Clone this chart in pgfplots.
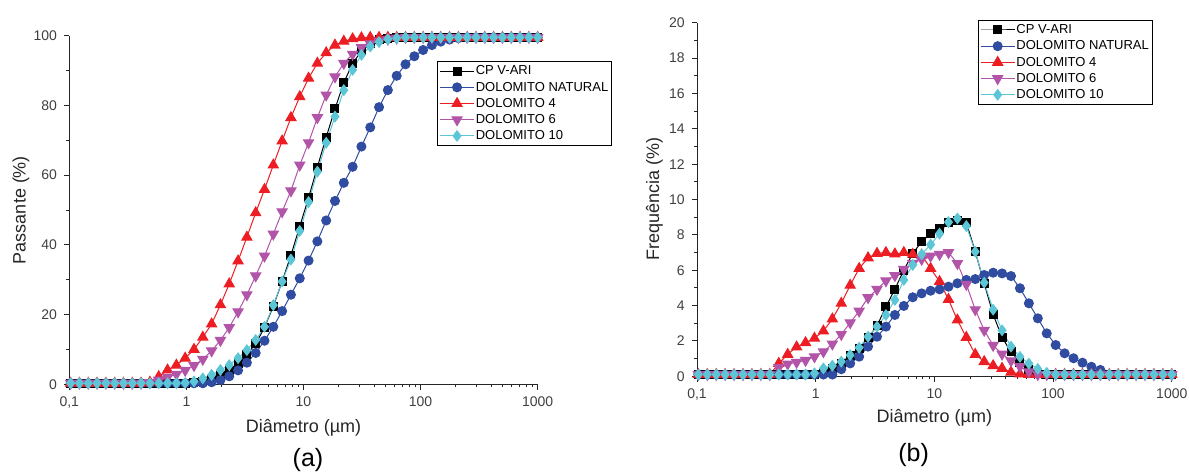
\documentclass[border=0pt]{standalone}
\usepackage{pgfplots}
\pgfplotsset{compat=1.18}
\usepackage{pgfplotstable}
\usepackage{fontspec}
\setmainfont{Liberation Sans}

\definecolor{cpk}{RGB}{0,0,0}
\definecolor{nat}{RGB}{48,76,160}
\definecolor{dfour}{RGB}{236,30,36}
\definecolor{dsix}{RGB}{178,84,168}
\definecolor{dten}{RGB}{92,198,214}

% Cumulative passing (%)
\pgfplotstableread{
x cp nat d4 d6 d10
0.10265 0.3 0.3 0.3 0.3 0.3
0.12207 0.3 0.3 0.3 0.3 0.3
0.14517 0.3 0.3 0.3 0.3 0.3
0.17263 0.3 0.3 0.3 0.3 0.3
0.20530 0.3 0.3 0.3 0.3 0.3
0.24414 0.3 0.3 0.3 0.3 0.3
0.29033 0.3 0.3 0.3 0.3 0.3
0.34527 0.3 0.3 0.3 0.3 0.3
0.41059 0.3 0.3 0.3 0.3 0.3
0.48828 0.3 0.3 0.6 0.5 0.3
0.58067 0.3 0.3 2.2 1.2 0.3
0.69053 0.3 0.3 4.1 2.0 0.3
0.82119 0.3 0.3 5.5 2.9 0.3
0.97656 0.3 0.3 7.5 4.0 0.4
1.1613 0.4 0.3 10.0 5.4 0.8
1.3811 0.7 0.3 13.5 7.2 1.7
1.6424 1.3 0.6 17.3 9.6 2.7
1.9531 2.4 1.2 22.8 12.6 4.1
2.3227 3.9 2.3 28.8 16.3 5.5
2.7621 6.0 4.0 35.4 20.8 7.5
3.2847 8.6 6.2 42.2 25.7 9.8
3.9063 11.6 9.0 49.2 31.1 12.7
4.6453 16.3 12.5 55.9 36.8 16.5
5.5243 22.4 16.5 62.9 43.1 22.7
6.5695 29.5 21.0 69.8 49.5 29.5
7.8125 37.0 25.7 76.5 55.5 35.8
9.2910 45.3 30.4 82.5 62.9 44.0
11.049 53.5 35.5 87.8 69.3 52.3
13.139 62.3 41.0 92.1 76.5 61.0
15.625 70.9 47.0 95.1 83.0 69.3
18.581 79.0 52.6 97.3 88.2 76.8
22.097 86.6 57.8 98.4 92.1 84.4
26.278 92.0 62.4 99.1 94.7 90.2
31.25 95.7 68.2 99.4 96.6 94.5
37.163 97.8 73.7 99.5 97.7 96.9
44.194 98.9 79.5 99.5 98.5 98.2
52.556 99.3 84.4 99.5 99.0 99.0
62.5 99.5 88.5 99.5 99.3 99.3
74.325 99.5 91.8 99.5 99.5 99.5
88.388 99.5 94.1 99.5 99.5 99.5
105.112 99.5 95.9 99.5 99.5 99.5
125 99.5 97.3 99.5 99.5 99.5
148.651 99.5 98.3 99.5 99.5 99.5
176.777 99.5 98.9 99.5 99.5 99.5
210.224 99.5 99.3 99.5 99.5 99.5
250 99.5 99.5 99.5 99.5 99.5
297.302 99.5 99.5 99.5 99.5 99.5
353.553 99.5 99.5 99.5 99.5 99.5
420.448 99.5 99.5 99.5 99.5 99.5
500 99.5 99.5 99.5 99.5 99.5
594.604 99.5 99.5 99.5 99.5 99.5
707.107 99.5 99.5 99.5 99.5 99.5
840.896 99.5 99.5 99.5 99.5 99.5
1000 99.5 99.5 99.5 99.5 99.5
}\cum

% Frequency (%)
\pgfplotstableread{
x cp nat d4 d6 d10
0.10265 0.1 0.1 0.1 0.1 0.1
0.12207 0.1 0.1 0.1 0.1 0.1
0.14517 0.1 0.1 0.1 0.1 0.1
0.17263 0.1 0.1 0.1 0.1 0.1
0.20530 0.1 0.1 0.1 0.1 0.1
0.24414 0.1 0.1 0.1 0.1 0.1
0.29033 0.1 0.1 0.1 0.1 0.1
0.34527 0.1 0.1 0.1 0.1 0.1
0.41059 0.1 0.1 0.1 0.1 0.1
0.48828 0.1 0.1 0.73 0.5 0.1
0.58067 0.1 0.1 1.24 0.7 0.1
0.69053 0.1 0.1 1.66 0.79 0.1
0.82119 0.1 0.1 1.9 0.9 0.1
0.97656 0.1 0.1 2.15 1.11 0.17
1.1613 0.2 0.1 2.56 1.39 0.45
1.3811 0.45 0.1 3.24 1.83 0.6
1.6424 0.75 0.4 4.13 2.37 0.83
1.9531 1.15 0.73 5.15 3.03 1.2
2.3227 1.6 1.11 6.1 3.69 1.62
2.7621 2.2 1.68 6.7 4.45 2.24
3.2847 2.85 2.24 6.95 4.92 2.81
3.9063 3.94 2.81 7.0 5.4 3.47
4.6453 4.93 3.47 6.92 5.7 4.32
5.5243 6.0 3.98 7.0 6.05 5.45
6.5695 6.95 4.47 6.9 6.39 6.3
7.8125 7.61 4.69 6.85 6.62 6.9
9.2910 8.09 4.84 6.1 6.8 7.45
11.049 8.37 4.92 5.36 6.9 8.07
13.139 8.7 5.07 4.35 7.0 8.72
15.625 8.8 5.26 3.18 6.38 8.93
18.581 8.7 5.45 2.2 5.2 8.5
22.097 7.05 5.5 1.24 3.77 7.05
26.278 5.25 5.73 0.83 2.6 5.3
31.25 3.5 5.86 0.6 1.75 3.77
37.163 2.2 5.82 0.45 1.26 2.6
44.194 1.38 5.67 0.23 0.88 1.68
52.556 0.8 4.98 0.13 0.55 1.1
62.5 0.4 4.13 0.1 0.26 0.72
74.325 0.15 3.28 0.1 0.1 0.42
88.388 0.1 2.43 0.1 0.1 0.2
105.112 0.1 1.77 0.1 0.1 0.1
125 0.1 1.3 0.1 0.1 0.1
148.651 0.1 1.02 0.1 0.1 0.1
176.777 0.1 0.77 0.1 0.1 0.1
210.224 0.1 0.54 0.1 0.1 0.1
250 0.1 0.36 0.1 0.1 0.1
297.302 0.1 0.1 0.1 0.1 0.1
353.553 0.1 0.1 0.1 0.1 0.1
420.448 0.1 0.1 0.1 0.1 0.1
500 0.1 0.1 0.1 0.1 0.1
594.604 0.1 0.1 0.1 0.1 0.1
707.107 0.1 0.1 0.1 0.1 0.1
840.896 0.1 0.1 0.1 0.1 0.1
1000 0.1 0.1 0.1 0.1 0.1
}\freq

\begin{document}
\begin{tikzpicture}
\useasboundingbox (0,0) rectangle (594.5pt,236.5pt);

\begin{axis}[
  scale only axis,
  at={(34.65pt,44.35pt)}, anchor=south west,
  width=234.2pt, height=174.3pt,
  xmode=log, xmin=0.1, xmax=1000,
  ymin=0, ymax=100, ytick={0,20,40,60,80,100},
  axis x line*=bottom, axis y line*=left,
  axis line style={line width=0.5pt, black!85},
  tick align=outside,
  major tick length=2.6pt, minor tick length=1.5pt,
  tick style={black!85, line width=0.45pt},
  xtick={0.1,1,10,100,1000},
  xticklabels={{0,1},1,10,100,1000},
  minor xtick={0.2,0.3,0.4,0.5,0.6,0.7,0.8,0.9,2,3,4,5,6,7,8,9,20,30,40,50,60,70,80,90,200,300,400,500,600,700,800,900},
  minor y tick num=1,
  /pgf/number format/assume math mode=true,
  tick label style={font=\fontsize{7}{8}\selectfont, text=black!75},
  label style={font=\fontsize{9}{10}\selectfont, text=black!85},
  xlabel={Diâmetro (µm)},
  ylabel={Passante (\%)},
  ylabel style={at={(axis description cs:-0.103,0.5)}, anchor=center},
  xlabel style={at={(axis description cs:0.5,-0.125)}, anchor=center},
  clip=false,
  legend cell align=left,
  legend style={at={(rel axis cs:0.785,0.927)}, anchor=north west,
    font=\fontsize{6.5}{7.5}\selectfont, draw=black, line width=0.5pt,
    inner sep=1pt, row sep=0.6pt,
    nodes={inner sep=0.6pt, text height=5pt, text depth=1.3pt}},
]
\addplot[cpk, line width=0.5pt, mark=square*, mark size=2pt, mark options={solid}] table[x=x, y=cp]{\cum};
\addlegendentry{CP V-ARI}
\addplot[nat, line width=0.5pt, mark=*, mark size=2.25pt, mark options={solid}] table[x=x, y=nat]{\cum};
\addlegendentry{DOLOMITO NATURAL}
\addplot[dfour, line width=0.5pt, mark=triangle*, mark size=2.9pt, mark options={solid}] table[x=x, y=d4]{\cum};
\addlegendentry{DOLOMITO 4}
\addplot[dsix, line width=0.5pt, mark=triangle*, mark size=2.9pt, mark options={solid, rotate=180}] table[x=x, y=d6]{\cum};
\addlegendentry{DOLOMITO 6}
\addplot[dten, line width=0.5pt, mark=diamond*, mark size=2.6pt, mark options={solid}] table[x=x, y=d10]{\cum};
\addlegendentry{DOLOMITO 10}
\end{axis}

\begin{axis}[
  scale only axis,
  at={(348.5pt,48.35pt)}, anchor=south west,
  width=237.4pt, height=176.8pt,
  xmode=log, xmin=0.1, xmax=1000,
  ymin=0, ymax=20, ytick={0,2,4,6,8,10,12,14,16,18,20},
  axis x line*=bottom, axis y line*=left,
  axis line style={line width=0.5pt, black!85},
  tick align=outside,
  major tick length=2.6pt, minor tick length=1.5pt,
  tick style={black!85, line width=0.45pt},
  xtick={0.1,1,10,100,1000},
  xticklabels={{0,1},1,10,100,1000},
  minor xtick={0.2,0.3,0.4,0.5,0.6,0.7,0.8,0.9,2,3,4,5,6,7,8,9,20,30,40,50,60,70,80,90,200,300,400,500,600,700,800,900},
  minor y tick num=1,
  /pgf/number format/assume math mode=true,
  tick label style={font=\fontsize{7}{8}\selectfont, text=black!75},
  label style={font=\fontsize{9}{10}\selectfont, text=black!85},
  xlabel={Diâmetro (µm)},
  ylabel={Frequência (\%)},
  ylabel style={at={(axis description cs:-0.0895,0.502)}, anchor=center},
  xlabel style={at={(axis description cs:0.5,-0.117)}, anchor=center},
  clip=false,
  legend cell align=left,
  legend style={at={(rel axis cs:0.591,1.0077)}, anchor=north west,
    font=\fontsize{6.5}{7.5}\selectfont, draw=black, line width=0.5pt,
    inner sep=1pt, row sep=0.6pt,
    nodes={inner sep=0.6pt, text height=5pt, text depth=1.3pt}},
]
\addplot[cpk, line width=0.5pt, mark=square*, mark size=2pt, mark options={solid}] table[x=x, y=cp]{\freq};
\addlegendentry{CP V-ARI}
\addplot[nat, line width=0.5pt, mark=*, mark size=2.25pt, mark options={solid}] table[x=x, y=nat]{\freq};
\addlegendentry{DOLOMITO NATURAL}
\addplot[dfour, line width=0.5pt, mark=triangle*, mark size=2.9pt, mark options={solid}] table[x=x, y=d4]{\freq};
\addlegendentry{DOLOMITO 4}
\addplot[dsix, line width=0.5pt, mark=triangle*, mark size=2.9pt, mark options={solid, rotate=180}] table[x=x, y=d6]{\freq};
\addlegendentry{DOLOMITO 6}
\addplot[dten, line width=0.5pt, mark=diamond*, mark size=2.6pt, mark options={solid}] table[x=x, y=d10]{\freq};
\addlegendentry{DOLOMITO 10}
\end{axis}

\node[font=\fontsize{12.5}{14}\selectfont] at (154pt,6.5pt) {(a)};
\node[font=\fontsize{12.5}{14}\selectfont] at (456.8pt,9pt) {(b)};
\end{tikzpicture}
\end{document}
